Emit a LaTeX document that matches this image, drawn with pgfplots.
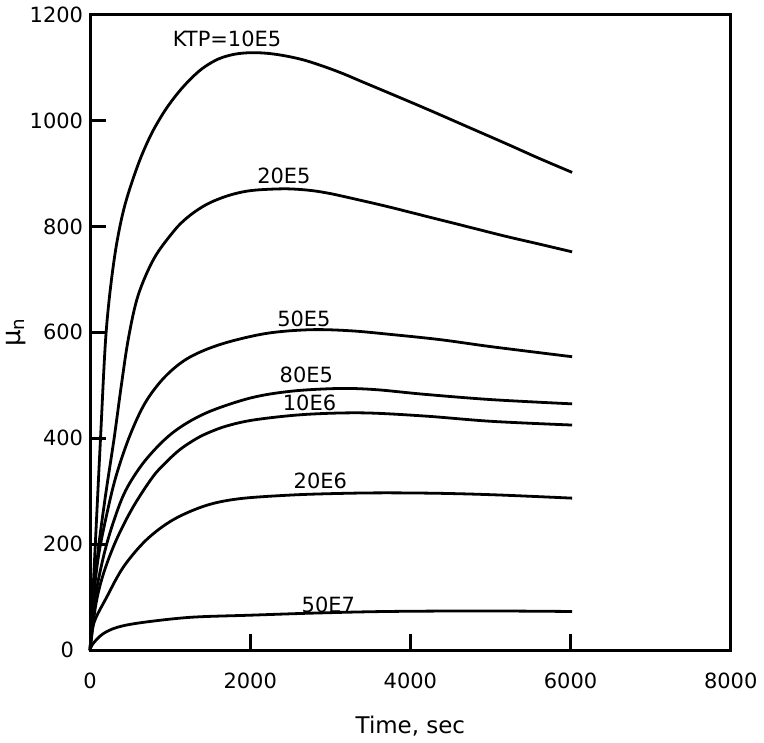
\documentclass[border=0pt]{standalone}
\usepackage{fontspec}
\setmainfont{DejaVu Sans}
\usepackage{pgfplots}
\pgfplotsset{compat=1.18}
\begin{document}
\begin{tikzpicture}[curve/.style={black, line width=1.4pt, smooth, tension=0.55, mark=none}]
\begin{axis}[
  scale only axis, width=321pt, height=318.5pt,
  xmin=0, xmax=8000, ymin=0, ymax=1200,
  xtick={0,2000,4000,6000,8000},
  ytick={0,200,400,600,800,1000,1200},
  yticklabel={\ifdim\tick pt<1pt \pgfmathprintnumber{\tick}\hspace*{4.5pt}\else\pgfmathprintnumber{\tick}\fi},
  tick align=inside,
  xtick pos=bottom, ytick pos=left,
  major tick length=8pt,
  axis line style={line width=1.5pt},
  tick style={black, line width=1.3pt},
  /pgf/number format/assume math mode=true,
  /pgf/number format/1000 sep={},
  ticklabel style={font=\fontsize{10.5}{12}\selectfont},
  xticklabel style={yshift=-8pt},
  xlabel={Time, sec},
  xlabel style={at={(axis description cs:0.5,0)}, anchor=center, yshift=-38pt, font=\fontsize{11.5}{13}\selectfont},
  ylabel={μ\textsubscript{n}},
  ylabel style={at={(axis description cs:-0.115,0.5)}, anchor=center, font=\fontsize{13}{15}\selectfont},
  clip=false,
]
% KTP=10E5
\addplot[curve] coordinates {(0,0) (65,200) (130,400) (200,600) (300,737) (420,832) (590,913) (750,970) (910,1013) (1060,1045) (1220,1073) (1400,1098) (1600,1116) (1800,1125) (2000,1128) (2200,1127) (2400,1123) (2650,1115) (2900,1103) (3150,1089) (3400,1073) (3700,1054) (4200,1022) (4700,989) (5200,956) (5600,929) (6020,902)};
% 20E5
\addplot[curve] coordinates {(0,0) (50,110) (110,200) (200,300) (300,400) (390,500) (480,590) (600,670) (800,740) (1050,792) (1200,815) (1350,832) (1500,845) (1700,857) (1900,865) (2100,869) (2450,871) (2750,868) (3000,862) (3300,852) (3700,838) (4200,819) (4700,800) (5200,781) (5600,767) (6020,752)};
% 50E5
\addplot[curve] coordinates {(0,0) (40,95) (103,176) (200,251) (321,327) (491,403) (688,467) (934,516) (1231,552) (1642,578) (2200,598) (2750,605) (3250,603) (3760,596) (4385,586) (5008,573) (6020,554)};
% 80E5
\addplot[curve] coordinates {(0,0) (60,95) (166,176) (287,240) (446,302) (693,359) (1027,410) (1437,447) (2000,476) (2519,489) (3100,494) (3555,492) (4178,483) (5013,473) (6020,465)};
% 10E6
\addplot[curve] coordinates {(0,0) (70,85) (168,145) (327,208) (536,270) (782,327) (950,355) (1116,378) (1280,395) (1439,408) (1700,423) (2060,435) (2684,445) (3400,448) (4180,442) (5015,432) (6020,425)};
% 20E6
\addplot[curve] coordinates {(0,0) (47,51) (207,100) (416,157) (701,208) (1035,246) (1445,273) (1869,286) (2530,293) (3152,296) (3700,297) (4400,296) (5100,293) (6020,287)};
% 50E7
\addplot[curve] coordinates {(0,0) (30,11) (153,30) (336,43) (641,52) (1252,62) (2000,66) (2800,70) (3700,73) (4900,74) (6020,73)};
% y ticks drawn as axis decoration
\pgfplotsinvokeforeach{200,400,600,800,1000}{
  \draw[black, line width=1.3pt] (axis cs:0,#1) -- ++(8pt,0pt);
}
\begin{scope}[every node/.style={font=\fontsize{10.5}{12}\selectfont}]
\node at (axis cs:1710,1155) {KTP=10E5};
\node at (axis cs:2420,896) {20E5};
\node at (axis cs:2670,625) {50E5};
\node at (axis cs:2700,520) {80E5};
\node at (axis cs:2740,466) {10E6};
\node at (axis cs:2875,319) {20E6};
\node at (axis cs:2975,86) {50E7};
\end{scope}
\end{axis}
\end{tikzpicture}
\end{document}
